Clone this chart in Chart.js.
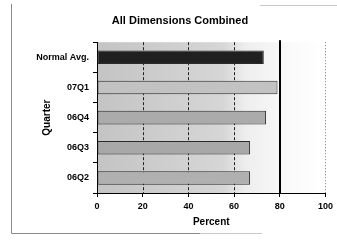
<!DOCTYPE html>
<html>
<head>
<meta charset="utf-8">
<script src="https://cdn.jsdelivr.net/npm/chart.js@4/dist/chart.umd.min.js"></script>
<style>
  html, body { margin: 0; padding: 0; background: #fff; }
  #wrap { width: 337px; height: 243px; position: relative; }
</style>
</head>
<body>
<div id="wrap"><canvas id="c" width="337" height="243"></canvas></div>
<script>
const categories = ["Normal Avg.", "07Q1", "06Q4", "06Q3", "06Q2"];
const percentValues = [73, 79, 74, 67, 67];
const xTicks = [0, 20, 40, 60, 80, 100];

const bgPlugin = {
  id: 'bgPlugin',
  beforeDraw(chart) {
    const { ctx, chartArea: a } = chart;
    ctx.save();
    ctx.strokeStyle = '#8a8a8a';
    ctx.lineWidth = 1;
    ctx.beginPath();
    ctx.moveTo(11.5, 4); ctx.lineTo(11.5, 233.5); ctx.lineTo(200, 233.5);
    ctx.stroke();
    ctx.strokeStyle = '#c8c8c8';
    ctx.beginPath();
    ctx.moveTo(200, 233.5); ctx.lineTo(262, 233.5);
    ctx.moveTo(260, 5.5); ctx.lineTo(337, 5.5);
    ctx.stroke();
    const g = ctx.createLinearGradient(a.left, 0, a.right, 0);
    g.addColorStop(0, '#c4c4c4');
    g.addColorStop(0.55, '#d6d6d6');
    g.addColorStop(0.65, '#eeeeee');
    g.addColorStop(0.85, '#fafafa');
    g.addColorStop(1, '#ffffff');
    ctx.fillStyle = g;
    ctx.fillRect(a.left, a.top, a.right - a.left, a.bottom - a.top);
    ctx.restore();
  },
  beforeDatasetsDraw(chart) {
    const { ctx, chartArea: a, scales: { x } } = chart;
    ctx.save();
    xTicks.forEach(v => {
      if (v === 0) return;
      const px = Math.round(x.getPixelForValue(v));
      ctx.beginPath();
      if (v === 80) {
        ctx.strokeStyle = '#000'; ctx.lineWidth = 2; ctx.setLineDash([]);
        ctx.moveTo(px, a.top - 2); ctx.lineTo(px, a.bottom);
      } else if (v === 100) {
        ctx.strokeStyle = '#777'; ctx.lineWidth = 1; ctx.setLineDash([1, 2]);
        ctx.moveTo(px + 0.5, a.top); ctx.lineTo(px + 0.5, a.bottom);
      } else {
        ctx.strokeStyle = '#222'; ctx.lineWidth = 1; ctx.setLineDash([3, 2]);
        ctx.moveTo(px + 0.5, a.top); ctx.lineTo(px + 0.5, a.bottom);
      }
      ctx.stroke();
    });
    ctx.restore();
  }
};

new Chart(document.getElementById('c'), {
  type: 'bar',
  data: {
    labels: categories,
    datasets: [{
      data: percentValues,
      backgroundColor: ['#202020', '#c2c2c2', '#ababab', '#a8a8a8', '#b0b0b0'],
      borderColor: '#2a2a2a',
      borderWidth: 1,
      borderSkipped: false,
      barPercentage: 0.45,
      categoryPercentage: 1.0
    }]
  },
  options: {
    indexAxis: 'y',
    responsive: false,
    animation: false,
    events: [],
    layout: { padding: { left: 32, right: 9, top: 0, bottom: 10 } },
    plugins: {
      legend: { display: false },
      tooltip: { enabled: false },
      title: {
        display: true,
        text: 'All Dimensions Combined',
        color: '#000',
        font: { family: 'Liberation Sans', size: 11, weight: 'bold' },
        padding: { top: 14, bottom: 15 }
      }
    },
    scales: {
      x: {
        min: 0, max: 100,
        afterBuildTicks(s) { s.ticks = xTicks.map(v => ({ value: v })); },
        afterFit(s) { s.height = 40; },
        grid: { drawOnChartArea: false, drawTicks: true, tickLength: 4, color: '#000', tickColor: '#000' },
        border: { display: true, color: '#000', width: 1 },
        ticks: { color: '#000', padding: 4, font: { family: 'Liberation Sans', size: 9, weight: 'bold' } },
        title: {
          display: true, text: 'Percent', color: '#000',
          font: { family: 'Liberation Sans', size: 10, weight: 'bold' },
          padding: { top: 0, bottom: 5 }
        }
      },
      y: {
        afterFit(s) { s.width = 65; },
        grid: { drawOnChartArea: false, drawTicks: true, tickLength: 4, color: '#000', tickColor: '#000', offset: true },
        border: { display: true, color: '#000', width: 1 },
        ticks: { color: '#000', padding: 4, font: { family: 'Liberation Sans', size: 9, weight: 'bold' } },
        title: {
          display: true, text: 'Quarter', color: '#000',
          font: { family: 'Liberation Sans', size: 10, weight: 'bold' },
          padding: { top: 9, bottom: 0 }
        }
      }
    }
  },
  plugins: [bgPlugin]
});
</script>
</body>
</html>
